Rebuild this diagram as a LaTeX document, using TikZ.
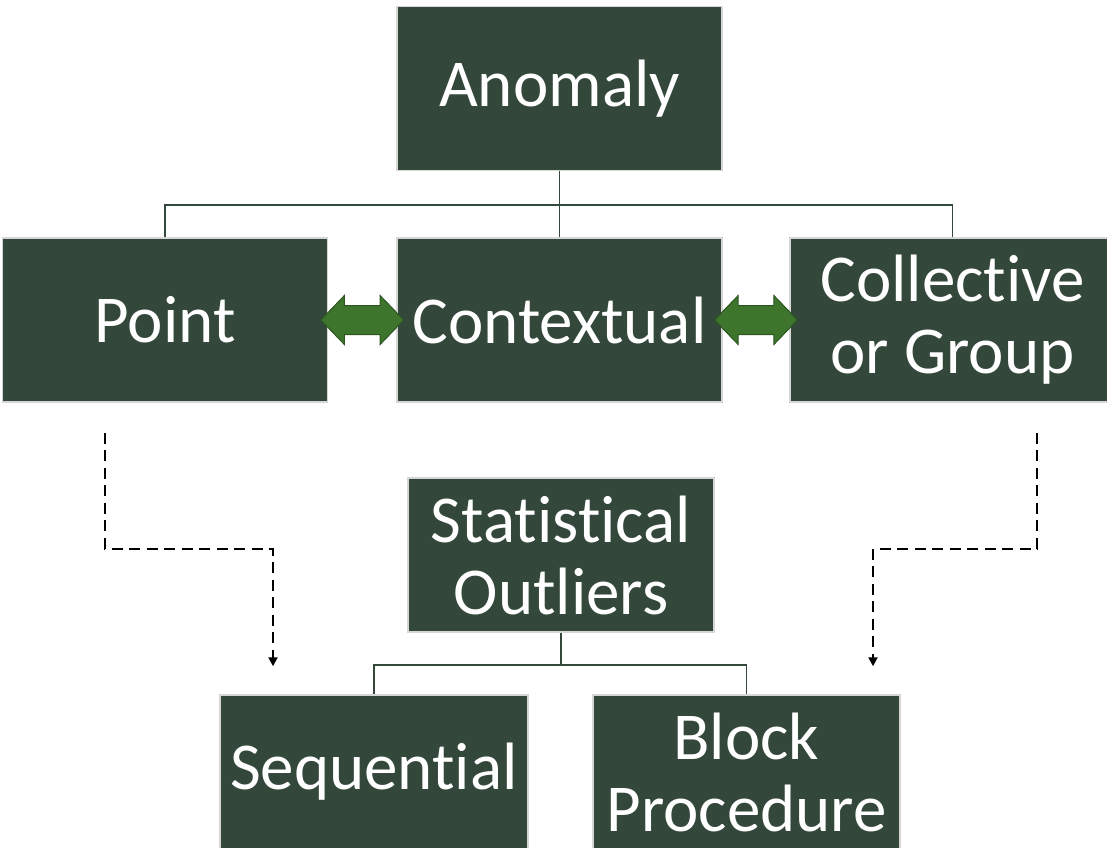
\documentclass[tikz,border=0pt]{standalone}
\usepackage{fontspec}
\setmainfont{Carlito}[Ligatures={NoCommon,NoContextual,NoRequired}]
\usetikzlibrary{arrows.meta,shapes.arrows,calc}

\definecolor{boxgreen}{RGB}{52,71,59}
\definecolor{boxedge}{RGB}{214,214,214}
\definecolor{arrowgreen}{RGB}{62,117,44}
\definecolor{arrowedge}{RGB}{45,85,32}

\begin{document}
\begin{tikzpicture}[x=1pt,y=-1pt,
    link/.style={draw=boxgreen,line width=1.8pt},
    twoway/.style={double arrow,fill=arrowgreen,draw=arrowedge,line width=1pt,
        inner xsep=0pt,inner ysep=14pt,minimum height=83pt,
        double arrow head extend=10pt,double arrow tip angle=92},
    hint/.style={dash pattern=on 11pt off 6.5pt,line width=2pt,
        -{Triangle[length=9pt,width=9pt]}}]
\useasboundingbox (0,0) rectangle (1107,847);

% boxes
\begin{scope}[every node/.style={rectangle,fill=boxgreen,draw=boxedge,line width=1.5pt,
        text=white,align=center,inner sep=0pt,minimum width=325pt,minimum height=164pt,
        font=\fontsize{67}{72}\selectfont}]
    \node (anom) at (559.5,88.5) {Anomaly};
    \node (point) at (165,320) {Point};
    \node (ctx) at (559.5,320) {Contextual};
    \node (coll) at (952.5,320) {Collective\\or Group};
    \node[minimum width=306pt,minimum height=154pt] (stat) at (561,555) {Statistical\\Outliers};
    \node[minimum width=308pt,minimum height=154pt] (seq) at (374,772) {Sequential};
    \node[minimum width=307pt,minimum height=154pt] (block) at (746.5,772) {Block\\Procedure};
\end{scope}

% tree lines
\begin{scope}
    \path[link] (anom.south) -- ++(0,34) coordinate (fork) -| (point.north);
    \path[link] (fork) -| (coll.north);
    \path[link] (fork) -- (ctx.north);
    \path[link] (stat.south) -- ++(0,32) coordinate (split) -| (seq.north);
    \path[link] (split) -| (block.north);
\end{scope}

% two-way arrows
\node[twoway] (pc) at ($(point.east)!0.5!(ctx.west)$) {};
\node[twoway] (cc) at ($(ctx.east)!0.5!(coll.west)$) {};

% dashed hints
\coordinate (p0) at ($(point.south)+(-60,30)$);
\coordinate (p1) at ($(seq.north)+(-101,-28)$);
\coordinate (c0) at ($(coll.south)+(84.5,30)$);
\coordinate (c1) at ($(block.north)+(126.5,-28)$);
\draw[hint] (p0) -- ++(0,116) -| (p1);
\draw[hint] (c0) -- ++(0,116) -| (c1);
\end{tikzpicture}
\end{document}
